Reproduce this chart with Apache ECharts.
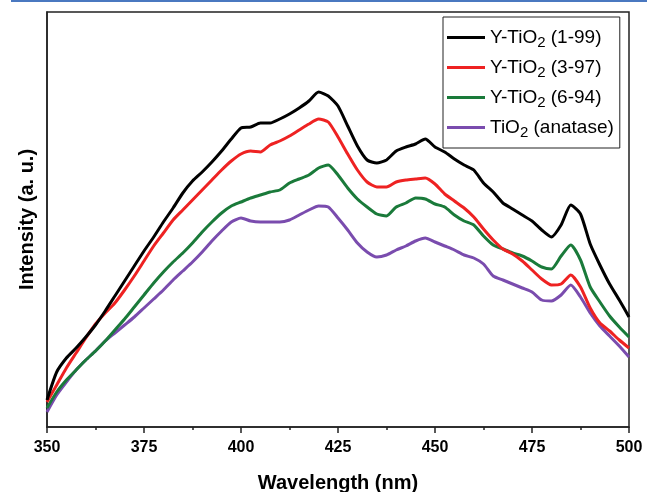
<!DOCTYPE html>
<html>
<head>
<meta charset="utf-8">
<script src="https://cdn.jsdelivr.net/npm/echarts@6/dist/echarts.min.js"></script>
<style>
html,body{margin:0;padding:0;background:#fff;}
#chart{width:647px;height:492px;}
</style>
</head>
<body>
<div id="chart"></div>
<script>
// Wavelengths (nm), step 2.5 from 350 to 500
var wavelengths = [];
for (var w = 350; w <= 500.001; w += 2.5) wavelengths.push(w);

var seriesNames = ['Y-TiO{s|2} (1-99)', 'Y-TiO{s|2} (3-97)', 'Y-TiO{s|2} (6-94)', 'TiO{s|2} (anatase)'];

var y1_99 = [27,55,69,79,90,102,116,131,146,161,
  176,190,205,219,234,246,255,265,276,288,
  299,300,304,304,308,313,319,326,335,331,
  321,301,281,267,264,267,276,280,283,288,
  280,275,268,262,257,244,235,224,218,212,
  206,197,190,202,222,213,183,162,143,127,
  110];

var y3_97 = [25,42,59,74,89,103,114,124,137,151,
  166,181,194,207,217,227,237,247,257,266,
  273,276,275,282,286,291,297,303,308,305,
  290,273,257,245,240,240,245,247,248,249,
  243,233,226,219,210,198,187,178,173,166,
  157,148,142,143,152,140,119,104,96,87,
  79];

var y6_94 = [19,35,47,57,67,76,86,97,108,120,
  132,144,155,165,174,184,195,205,214,221,
  225,229,232,235,237,244,248,252,259,262,
  252,239,228,220,213,211,220,224,229,228,
  223,220,212,206,202,191,182,178,174,171,
  166,160,158,171,182,167,140,125,111,100,
  90];

var anatase = [15,32,45,57,67,76,86,94,102,110,
  119,128,137,147,156,165,175,186,196,205,
  209,206,205,205,205,207,212,217,221,220,
  209,197,184,175,170,172,177,181,186,189,
  185,181,177,172,169,163,151,147,143,139,
  135,127,126,132,142,130,114,101,91,81,
  70];

var xTicks = [350, 375, 400, 425, 450, 475, 500];

var colors = ['#000000', '#ee2222', '#1a7a3a', '#7a4cae'];
var allData = [y1_99, y3_97, y6_94, anatase];

function pairs(arr) {
  return wavelengths.map(function (x, i) { return [x, arr[i]]; });
}

var FONT = '"Liberation Sans", Arial, sans-serif';

var series = allData.map(function (arr, k) {
  return {
    name: seriesNames[k],
    type: 'line',
    data: pairs(arr),
    symbol: 'none',
    smooth: 0.2,
    lineStyle: { color: colors[k], width: 3 },
    itemStyle: { color: colors[k] },
    z: 10 - k
  };
});

var chart = echarts.init(document.getElementById('chart'), null, { renderer: 'canvas' });
chart.setOption({
  animation: false,
  backgroundColor: '#fff',
  graphic: [{
    type: 'rect',
    shape: { x: 11, y: 0, width: 636, height: 2 },
    style: { fill: '#4a78c0' },
    silent: true
  }],
  grid: {
    left: 47, right: 18, top: 12, bottom: 65,
    containLabel: false,
    outerBoundsMode: 'none',
    show: true, borderColor: '#222', borderWidth: 1.5, backgroundColor: 'transparent'
  },
  legend: {
    left: 443, top: 17,
    orient: 'vertical',
    padding: [11, 6, 8, 4],
    itemGap: 8,
    itemWidth: 38,
    itemHeight: 3,
    icon: 'rect',
    borderColor: '#222',
    borderWidth: 1,
    backgroundColor: '#fff',
    data: seriesNames,
    textStyle: {
      fontFamily: FONT, fontSize: 19, color: '#000',
      rich: {
        s: { fontFamily: FONT, fontSize: 15, color: '#000', verticalAlign: 'bottom', padding: [10, 0, 0, 0] }
      }
    }
  },
  xAxis: {
    type: 'value',
    min: 350, max: 500, interval: 25,
    name: 'Wavelength (nm)',
    nameLocation: 'middle',
    nameGap: 46,
    nameTextStyle: { fontFamily: FONT, fontWeight: 'bold', fontSize: 20, color: '#000' },
    axisLine: { show: true, lineStyle: { color: '#222', width: 1.5 } },
    axisTick: { show: true, inside: false, length: 6, lineStyle: { color: '#222', width: 1.5 } },
    minorTick: { show: true, splitNumber: 2, length: 3, lineStyle: { color: '#222', width: 1.5 } },
    splitLine: { show: false },
    axisLabel: { fontFamily: FONT, fontWeight: 'bold', fontSize: 16, color: '#000', margin: 13,
      formatter: function (v) { return xTicks.indexOf(v) >= 0 ? String(v) : ''; } }
  },
  yAxis: {
    type: 'value',
    min: 0, max: 415,
    name: 'Intensity (a. u.)',
    nameLocation: 'middle',
    nameGap: 10,
    nameTextStyle: { fontFamily: FONT, fontWeight: 'bold', fontSize: 20, color: '#000' },
    axisLine: { show: true, lineStyle: { color: '#222', width: 1.5 } },
    axisTick: { show: false },
    axisLabel: { show: false },
    splitLine: { show: false }
  },
  series: series
});
</script>
</body>
</html>
